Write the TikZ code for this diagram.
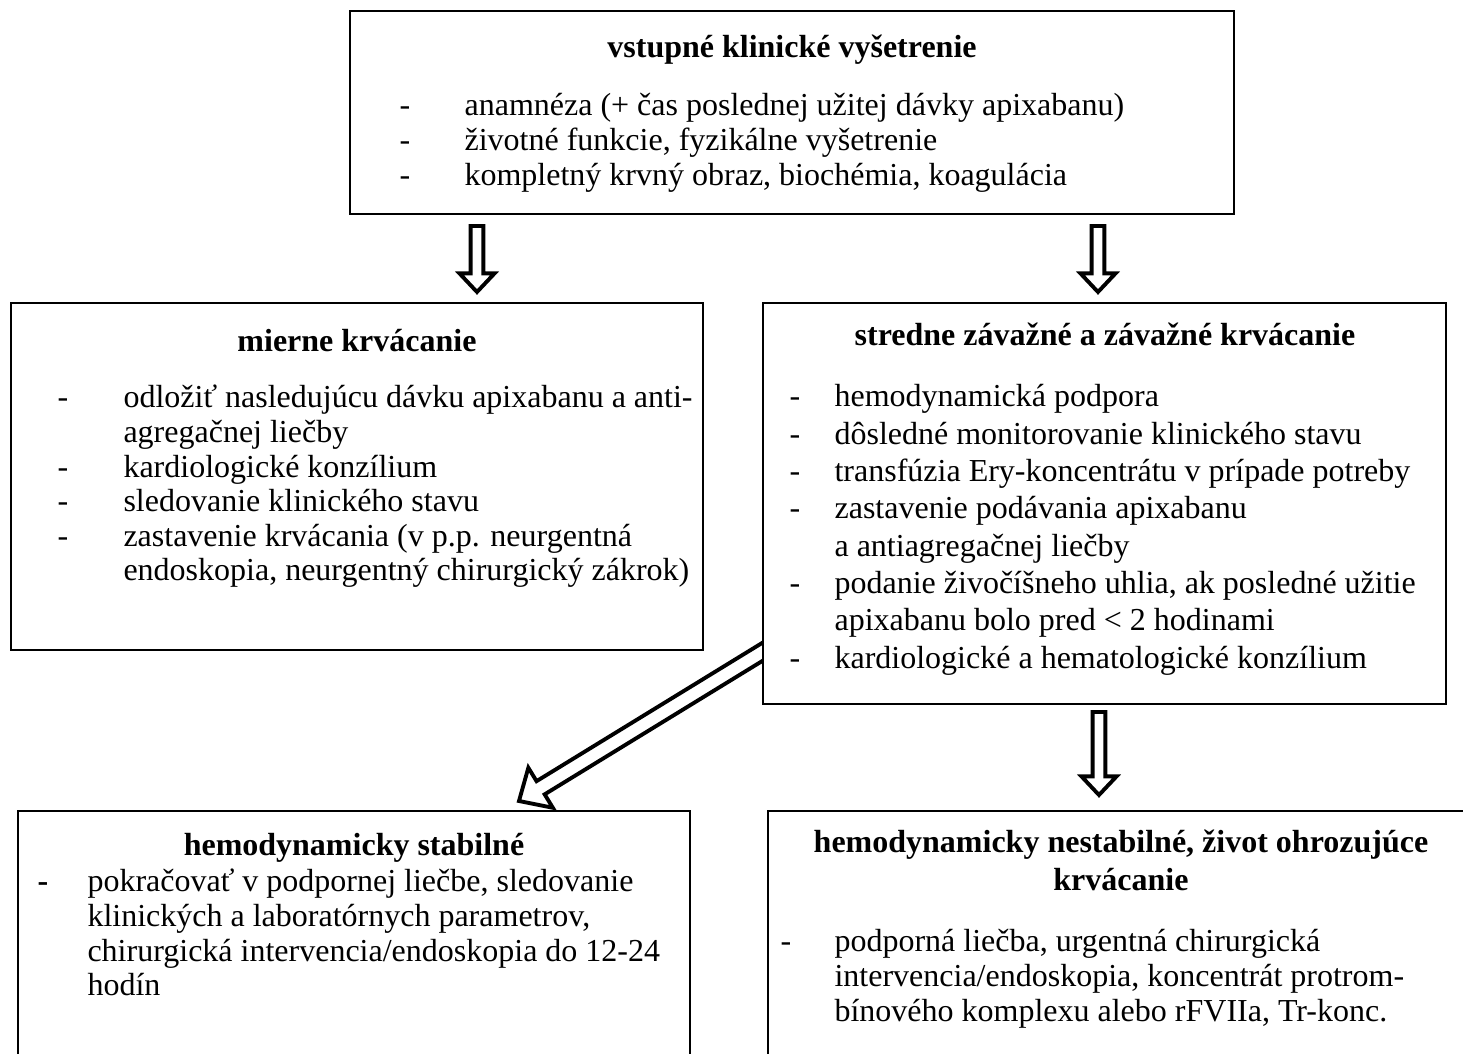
\documentclass[tikz,border=0pt]{standalone}
\usepackage{fontspec}
\setmainfont{Liberation Serif}
\usetikzlibrary{calc,fit,backgrounds}

% hollow block arrow: tail, tip, shaft half width, head half width, head length
\newcommand{\hollowarrow}[5]{%
  \path ($(#2)!#5!(#1)$) coordinate (neck);
  \filldraw[blockarr] ($(#1)!#3!90:(#2)$) -- ($(neck)!#3!90:(#2)$)
    -- ($(neck)!#4!90:(#2)$) -- (#2) -- ($(neck)!#4!-90:(#2)$)
    -- ($(neck)!#3!-90:(#2)$) -- ($(#1)!#3!-90:(#2)$) -- cycle;}

\begin{document}
\begin{tikzpicture}[
    x=0.375pt, y=-0.375pt,
    font=\fontsize{12}{12.94}\selectfont,
    box/.style={draw, fill=white, line width=0.6pt, inner sep=0pt},
    titlelbl/.style={font=\fontsize{12}{12.94}\selectfont\bfseries, anchor=base, inner sep=0pt},
    itemlbl/.style={anchor=base west, inner sep=0pt},
    blockarr/.style={draw, fill=white, line width=1.45pt, miter limit=10}
  ]
  \useasboundingbox (0,0) rectangle (1463,1054);

  % boxes
  \node[box, line width=0.9pt, fit={(350,11) (1234,214)}] (entry) {};
  \node[box, fit={(11,303) (703,650)}] (mild) {};
  \node[box, fit={(763,303) (1446,704)}] (severe) {};
  \node[box, fit={(18,811) (690,1090)}] (stable) {};
  \node[box, fit={(768,811) (1500,1090)}] (unstable) {};

  % arrows
  \foreach \nm/\tx/\ty/\hy in {left/477/226/292, right/1098/226/292, down/1099/712/795}{
    \coordinate (\nm tail) at (\tx,\ty);
    \coordinate (\nm tip) at (\tx,\hy);
    \hollowarrow{\nm tail}{\nm tip}{2.4pt}{6.6pt}{7pt}
  }
  \coordinate (diagtip) at (519,801);
  \coordinate (diagedge) at (severe.west |- 0,652);
  \coordinate (diagtail) at ($(diagtip)!1.15!(diagedge)$);
  \begin{scope}[on background layer]
    \hollowarrow{diagtail}{diagtip}{2.9pt}{8.8pt}{9.5pt}
  \end{scope}

  % entry
  \node[titlelbl] (entrytitle) at (792,58) {vstupné klinické vyšetrenie};
  \node[itemlbl] (entrylist) at (399,116) {\begin{tabular}[t]{@{}p{24.4pt}@{}l@{}}
    - & anamnéza (+ čas poslednej užitej dávky apixabanu)\\
    - & životné funkcie, fyzikálne vyšetrenie\\
    - & kompletný krvný obraz, biochémia, koagulácia
  \end{tabular}};

  % mild bleeding
  \node[titlelbl] (mildtitle) at (357,352) {mierne krvácanie};
  \node[itemlbl] (mildlist) at (57,408) {\begin{tabular}[t]{@{}p{24.75pt}@{}l@{}}
    - & odložiť nasledujúcu dávku apixabanu a anti-\\
      & agregačnej liečby\\
    - & kardiologické konzílium\\
    - & sledovanie klinického stavu\\
    - & zastavenie krvácania (v p.p. neurgentná\\
      & endoskopia, neurgentný chirurgický zákrok)
  \end{tabular}};

  % severe bleeding
  \node[titlelbl] (severetitle) at (1105,346) {stredne závažné a závažné krvácanie};
  \node[itemlbl, font=\fontsize{12}{14}\selectfont] (severelist) at (789,407) {\begin{tabular}[t]{@{}p{16.9pt}@{}l@{}}
    - & hemodynamická podpora\\
    - & dôsledné monitorovanie klinického stavu\\
    - & transfúzia Ery-koncentrátu v prípade potreby\\
    - & zastavenie podávania apixabanu\\
      & a antiagregačnej liečby\\
    - & podanie živočíšneho uhlia, ak posledné užitie\\
      & apixabanu bolo pred < 2 hodinami\\
    - & kardiologické a hematologické konzílium
  \end{tabular}};

  % stable
  \node[titlelbl] (stabletitle) at (354,856) {hemodynamicky stabilné};
  \node[itemlbl] (stablelist) at (37,892) {\begin{tabular}[t]{@{}p{18.75pt}@{}l@{}}
    \textbf{-} & pokračovať v podpornej liečbe, sledovanie\\
      & klinických a laboratórnych parametrov,\\
      & chirurgická intervencia/endoskopia do 12-24\\
      & hodín
  \end{tabular}};

  % unstable
  \node[titlelbl] (unstabletitle) at (1121,853) {\begin{tabular}[t]{@{}c@{}}
    hemodynamicky nestabilné, život ohrozujúce\\[1pt]
    krvácanie
  \end{tabular}};
  \node[itemlbl] (unstablelist) at (780,952) {\begin{tabular}[t]{@{}p{20.25pt}@{}l@{}}
    - & podporná liečba, urgentná chirurgická\\
      & intervencia/endoskopia, koncentrát protrom-\\
      & bínového komplexu alebo rFVIIa, Tr-konc.
  \end{tabular}};
\end{tikzpicture}
\end{document}
